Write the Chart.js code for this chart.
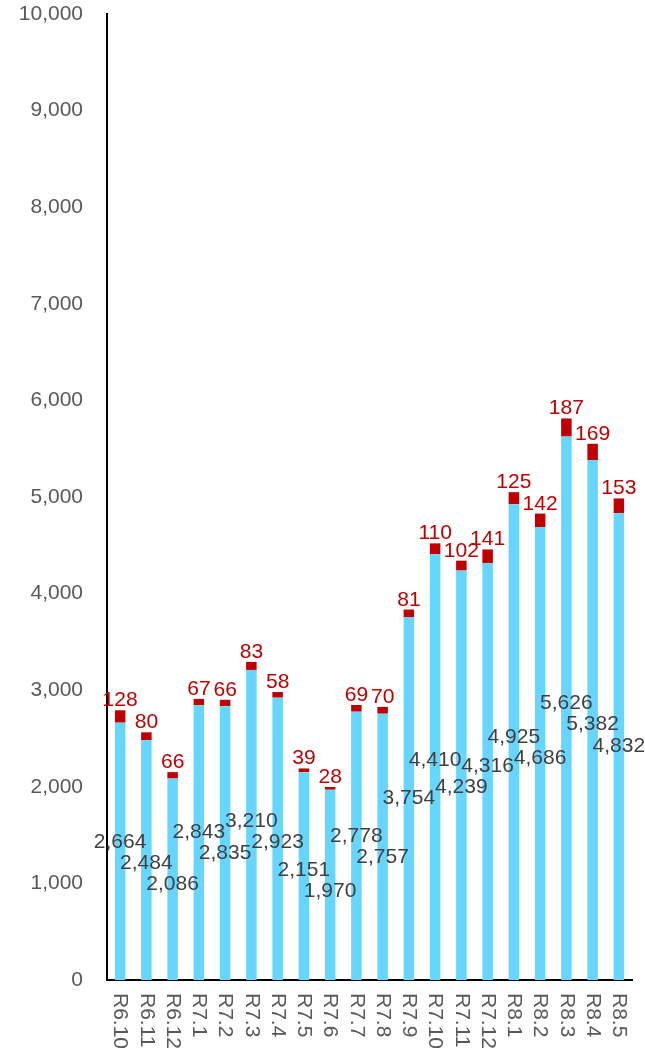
<!DOCTYPE html>
<html>
<head>
<meta charset="utf-8">
<script src="https://cdn.jsdelivr.net/npm/chart.js@4"></script>
<style>
  html, body { margin: 0; padding: 0; background: #fff; }
  #wrap { width: 645px; height: 1055px; }
</style>
</head>
<body>
<div id="wrap"><canvas id="chart" width="645" height="1055"></canvas></div>
<script>
// ## data ##################################################################
const months = ['R6.10', 'R6.11', 'R6.12', 'R7.1', 'R7.2', 'R7.3', 'R7.4', 'R7.5', 'R7.6', 'R7.7',
  'R7.8', 'R7.9', 'R7.10', 'R7.11', 'R7.12', 'R8.1', 'R8.2', 'R8.3', 'R8.4', 'R8.5'];
const baseCounts = [2664, 2484, 2086, 2843, 2835, 3210, 2923, 2151, 1970, 2778,
  2757, 3754, 4410, 4239, 4316, 4925, 4686, 5626, 5382, 4832];
const topCounts = [128, 80, 66, 67, 66, 83, 58, 39, 28, 69,
  70, 81, 110, 102, 141, 125, 142, 187, 169, 153];
const yMax = 10000;
const yStep = 1000;

const FONT = '"Liberation Sans", Arial, sans-serif';
const BLUE = '#66D6FF';
const RED = '#C00000';

/** number with thousands comma */
function fmt(v) {
  return Number(v).toLocaleString('en-US');
}

/** nudge neighbouring labels apart vertically so they don't sit on each other */
function spread(ys, gap) {
  const out = ys.slice();
  for (let k = 0; k < 60; k++) {
    for (let i = 0; i < out.length - 1; i++) {
      const d = out[i + 1] - out[i];
      if (Math.abs(d) < gap) {
        const push = (gap - Math.abs(d)) / 2;
        const dir = d > 0 ? 1 : -1;
        out[i] -= dir * push;
        out[i + 1] += dir * push;
      }
    }
  }
  return out;
}

// draws value labels + vertical month labels (x ticks hidden, we rotate clockwise)
const labelPlugin = {
  id: 'valueLabels',
  afterDatasetsDraw(chart) {
    const c = chart.ctx;
    c.save();
    c.font = '21px ' + FONT;
    c.textAlign = 'center';

    // blue: middle of segment, spread a bit
    const bars = chart.getDatasetMeta(0).data;
    const ys = spread(bars.map(b => (b.y + b.base) / 2), 21);
    bars.forEach((bar, i) => {
      c.fillStyle = '#404040';
      c.textBaseline = 'middle';
      c.fillText(fmt(baseCounts[i]), bar.x, ys[i]);
    });

    // red: above the stack
    chart.getDatasetMeta(1).data.forEach((bar, i) => {
      c.fillStyle = RED;
      c.textBaseline = 'alphabetic';
      c.fillText(fmt(topCounts[i]), bar.x, bar.y - 4);
    });

    // month labels, reading top to bottom
    const xs = chart.scales.x;
    const y0 = chart.chartArea.bottom + 13;
    c.fillStyle = '#595959';
    c.textAlign = 'left';
    c.textBaseline = 'middle';
    months.forEach((m, i) => {
      c.save();
      c.translate(xs.getPixelForValue(i), y0);
      c.rotate(Math.PI / 2);
      c.fillText(m, 0, 0);
      c.restore();
    });
    c.restore();
  }
};

new Chart(document.getElementById('chart').getContext('2d'), {
  type: 'bar',
  data: {
    labels: months,
    datasets: [
      { data: baseCounts, backgroundColor: BLUE, barPercentage: 0.4, categoryPercentage: 1 },
      { data: topCounts, backgroundColor: RED, barPercentage: 0.4, categoryPercentage: 1 }
    ]
  },
  options: {
    responsive: false,
    animation: false,
    layout: { padding: { top: 14, right: 13, left: 0, bottom: 0 } },
    plugins: { legend: { display: false }, tooltip: { enabled: false } },
    scales: {
      x: {
        stacked: true,
        grid: { display: false, drawTicks: false },
        border: { display: true, color: '#000', width: 2 },
        ticks: { display: false },
        afterFit: s => { s.height = 75; }
      },
      y: {
        stacked: true,
        min: 0,
        max: yMax,
        grid: { display: false, drawTicks: false },
        border: { display: true, color: '#000', width: 2 },
        ticks: {
          stepSize: yStep,
          padding: 24,
          color: '#595959',
          font: { size: 21, family: FONT },
          callback: v => fmt(v)
        },
        afterFit: s => { s.width = 107; s.paddingTop = 0; s.paddingBottom = 0; }
      }
    }
  },
  plugins: [labelPlugin]
});
</script>
</body>
</html>
